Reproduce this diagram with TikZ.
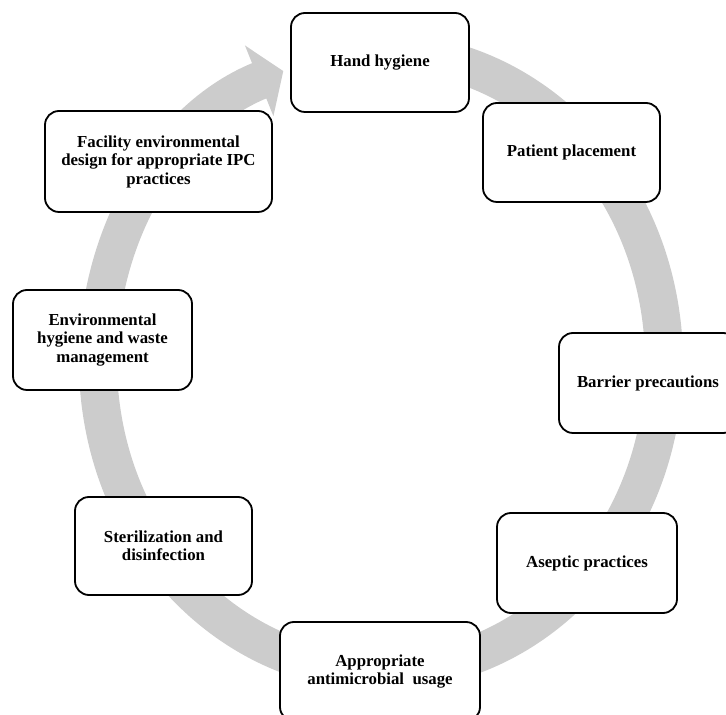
\documentclass[tikz,border=0pt]{standalone}
\usepackage{fontspec}
\setmainfont{Liberation Serif}
\usepackage{tikz}
\usetikzlibrary{arrows.meta}

\begin{document}
\begin{tikzpicture}[x=1pt,y=1pt,
    practice/.style={draw=black, line width=1.8pt, rounded corners=14pt, fill=white,
        align=center, inner sep=2pt, minimum height=99pt,
        font=\bfseries\fontsize{16.8}{18.5}\selectfont},
    band/.style={draw=black!20, line width=38pt, -{Triangle[width=75pt,length=26pt]}}]
\useasboundingbox (0,0) rectangle (726,715);
\coordinate (ringcenter) at (381,353);
\draw[band] (ringcenter) ++(100:283 and 310)
    arc[start angle=100, end angle=-249.8, x radius=283, y radius=310];
\node[practice, minimum width=178pt] (hand) at (380,652.5) {Hand hygiene};
\node[practice, minimum width=177pt] (patient) at (571.5,562.5) {Patient placement};
\node[practice, minimum width=178pt, minimum height=100pt] (barrier) at (648,332) {Barrier precautions};
\node[practice, minimum width=180pt, minimum height=100pt] (aseptic) at (587,152) {Aseptic practices};
\node[practice, minimum width=200pt] (antimicrobial) at (380,43.5) {Appropriate\\antimicrobial~ usage};
\node[practice, minimum width=177pt, minimum height=98pt] (sterilization) at (163.5,169) {Sterilization and\\disinfection};
\node[practice, minimum width=179pt, minimum height=100pt] (environmental) at (102.5,375) {Environmental\\hygiene and waste\\management};
\node[practice, minimum width=227pt, minimum height=101pt] (facility) at (158.5,553.5) {Facility environmental\\design for appropriate IPC\\practices};
\end{tikzpicture}
\end{document}
